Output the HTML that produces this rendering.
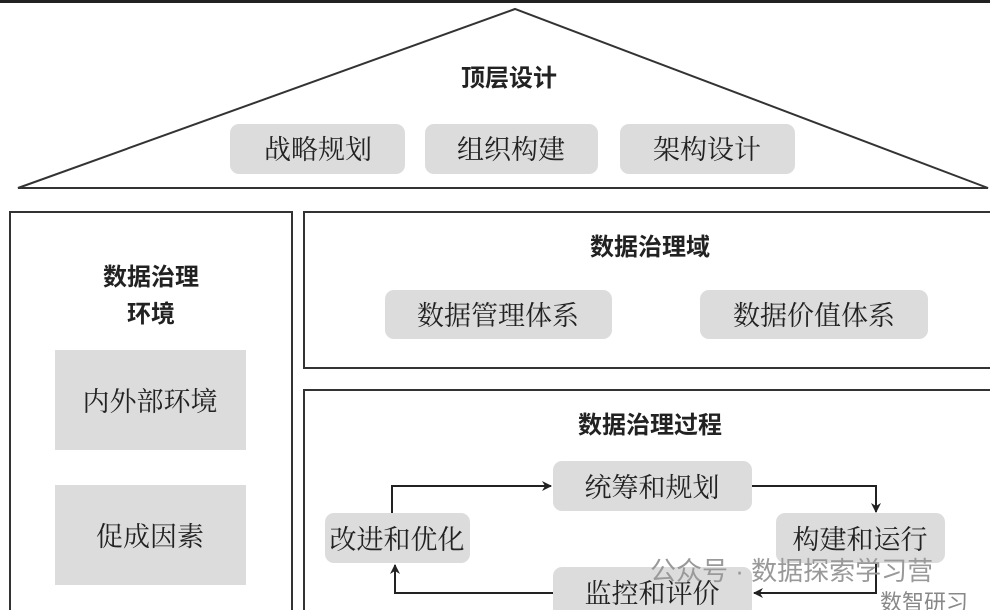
<!DOCTYPE html>
<html><head><meta charset="utf-8"><style>
body{margin:0;background:#fff;width:990px;height:610px;overflow:hidden}
text{font-family:"Liberation Serif","Noto Serif CJK SC","Noto Sans CJK SC",serif;fill:#222}
.t{font-family:"Liberation Sans","Noto Sans CJK SC",sans-serif;font-weight:bold;font-size:24px}
.b{font-size:27px}
</style></head><body>
<svg width="990" height="610" xmlns="http://www.w3.org/2000/svg">
<defs><marker id="a" markerWidth="10" markerHeight="10" refX="9" refY="5" orient="auto" markerUnits="userSpaceOnUse"><path d="M0,0 L10,5 L0,10 L3,5z" fill="#222"/></marker></defs>
<rect x="0" y="0" width="990" height="3" fill="#222"/>
<polygon points="18,188 515,9 988,188" fill="none" stroke="#333" stroke-width="2"/>
<text class="t" x="509" y="86" text-anchor="middle">顶层设计</text>
<g fill="#dcdcdc">
<rect x="230" y="124" width="175" height="50" rx="9"/>
<rect x="425" y="124" width="173" height="50" rx="9"/>
<rect x="620" y="124" width="175" height="50" rx="9"/>
</g>
<text class="b" x="318" y="159" text-anchor="middle">战略规划</text>
<text class="b" x="511" y="159" text-anchor="middle">组织构建</text>
<text class="b" x="707" y="159" text-anchor="middle">架构设计</text>
<g fill="none" stroke="#333" stroke-width="2">
<rect x="10" y="212" width="282" height="410"/>
<rect x="304" y="212" width="690" height="156"/>
<rect x="304" y="390" width="690" height="230"/>
</g>
<text class="t" x="151" y="285" text-anchor="middle">数据治理</text>
<text class="t" x="151" y="322" text-anchor="middle">环境</text>
<rect x="55" y="350" width="191" height="100" fill="#dcdcdc"/>
<rect x="55" y="485" width="191" height="100" fill="#dcdcdc"/>
<text class="b" x="150" y="411" text-anchor="middle">内外部环境</text>
<text class="b" x="150" y="546" text-anchor="middle">促成因素</text>
<text class="t" x="650" y="255" text-anchor="middle">数据治理域</text>
<rect x="385" y="290" width="227" height="49" rx="9" fill="#dcdcdc"/>
<rect x="700" y="290" width="228" height="49" rx="9" fill="#dcdcdc"/>
<text class="b" x="498" y="325" text-anchor="middle">数据管理体系</text>
<text class="b" x="814" y="325" text-anchor="middle">数据价值体系</text>
<text class="t" x="650" y="433" text-anchor="middle">数据治理过程</text>
<g fill="#dcdcdc">
<rect x="553" y="461" width="199" height="50" rx="9"/>
<rect x="325" y="513" width="145" height="50" rx="9"/>
<rect x="776" y="513" width="169" height="50" rx="9"/>
<rect x="553" y="567" width="199" height="50" rx="9"/>
</g>
<text class="b" x="652" y="497" text-anchor="middle">统筹和规划</text>
<text class="b" x="397" y="549" text-anchor="middle">改进和优化</text>
<text class="b" x="860" y="549" text-anchor="middle">构建和运行</text>
<text class="b" x="652" y="603" text-anchor="middle">监控和评价</text>
<g fill="none" stroke="#222" stroke-width="2" marker-end="url(#a)">
<polyline points="392,513 392,486 551,486"/>
<polyline points="752,486 876,486 876,512"/>
<polyline points="876,563 876,593 754,593"/>
<polyline points="553,593 395,593 395,565"/>
</g>
<text x="650" y="580" font-size="26" style="fill:#999;font-family:'Liberation Sans','Noto Sans CJK SC',sans-serif">公众号 · 数据探索学习营</text>
<text x="880" y="610" font-size="22" style="fill:#888;font-family:'Liberation Sans','Noto Sans CJK SC',sans-serif">数智研习</text>
</svg>
</body></html>
